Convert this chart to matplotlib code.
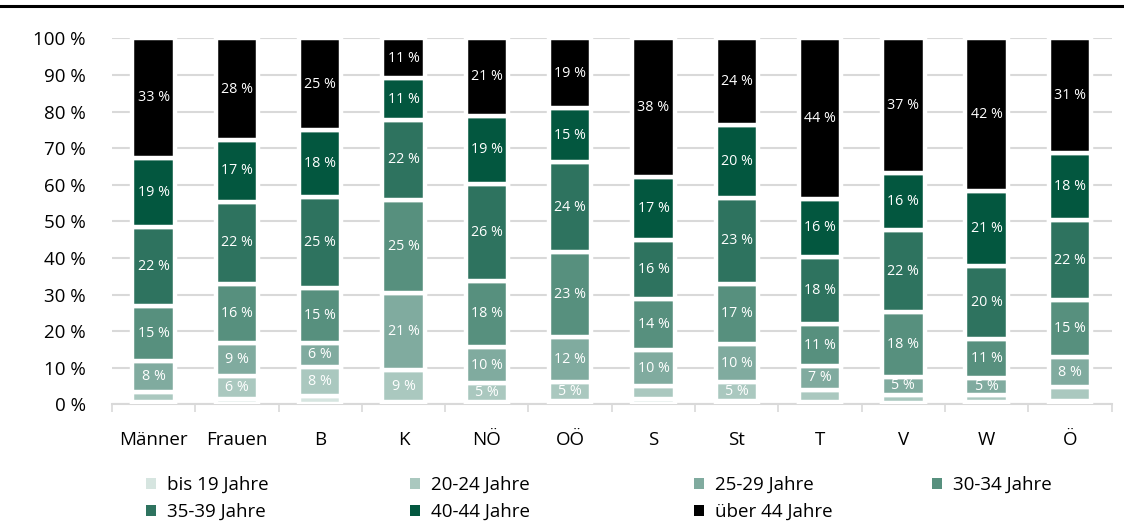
import matplotlib
matplotlib.use("Agg")
from matplotlib import pyplot as plt
from matplotlib.patches import Patch
from matplotlib.lines import Line2D
import numpy as np

plt.rcParams["font.family"] = ["Open Sans", "DejaVu Sans"]

regions = ["Männer", "Frauen", "B", "K", "NÖ", "OÖ", "S", "St", "T", "V", "W", "Ö"]
groups = ["bis 19 Jahre", "20-24 Jahre", "25-29 Jahre", "30-34 Jahre",
          "35-39 Jahre", "40-44 Jahre", "über 44 Jahre"]

# share per age group (percent), one list per group, order of regions
bis_19 = [0.5, 1.5, 2.3, 0.5, 0.7, 1.0, 1.4, 0.8, 0.6, 0.4, 0.5, 0.8]
a20_24 = [3.0, 6.2, 8.0, 8.9, 5.0, 5.0, 3.5, 5.2, 3.3, 2.2, 2.1, 3.8]
a25_29 = [8.3, 9.0, 6.4, 21.1, 10.0, 12.4, 9.9, 10.4, 6.6, 5.0, 4.6, 8.4]
a30_34 = [15.0, 16.3, 15.2, 25.4, 18.1, 23.3, 14.0, 16.6, 11.4, 17.6, 10.7, 15.4]
a35_39 = [21.7, 22.4, 24.7, 21.8, 26.4, 24.4, 16.0, 23.3, 18.3, 22.3, 19.8, 21.9]
a40_44 = [18.9, 16.8, 18.4, 11.4, 18.7, 14.8, 17.4, 20.0, 16.0, 15.6, 20.7, 18.3]
ueber_44 = [32.6, 27.8, 25.0, 10.9, 21.1, 19.1, 37.8, 23.7, 43.8, 36.9, 41.6, 31.4]

series = [bis_19, a20_24, a25_29, a30_34, a35_39, a40_44, ueber_44]
colors = ["#d6e5e0", "#aac8bf", "#80ab9f", "#57907e", "#2e735f", "#03573f", "#000000"]

fig = plt.figure(figsize=(11.24, 5.24), dpi=100)
ax = fig.add_axes([0.0996, 0.2284, 0.8894, 0.6985])

x = np.arange(len(regions))
bottom = np.zeros(len(regions))
for vals, col, name in zip(series, colors, groups):
    vals = np.array(vals)
    ax.bar(x, vals, 0.51, bottom=bottom, color=col, edgecolor="white",
           linewidth=3.2, label=name, zorder=3)
    for xi, b, v in zip(x, bottom, vals):
        if v >= 4:
            ax.text(xi, b + v / 2, f"{v:.0f} %", ha="center", va="center",
                    color="white", fontsize=10.3, zorder=4)
    bottom += vals

ax.set_xlim(-0.5, len(regions) - 0.5)
ax.set_ylim(0, 100)
ax.set_yticks(np.arange(0, 101, 10))
ax.set_yticklabels([f"{v} %" for v in range(0, 101, 10)], fontsize=13.5)
ax.yaxis.grid(True, color="#d9d9d9", linewidth=1.5, zorder=0)
ax.set_axisbelow(True)
ax.tick_params(axis="y", length=0, pad=19)

ax.set_xticks(x)
ax.set_xticklabels(regions, fontsize=13.5)
ax.set_xticks(np.arange(-0.5, len(regions), 1), minor=True)
ax.tick_params(axis="x", which="major", length=0, pad=19.5)
ax.tick_params(axis="x", which="minor", length=6, color="#d9d9d9", width=1.2)

for s in ["top", "right", "left"]:
    ax.spines[s].set_visible(False)
ax.spines["bottom"].set_color("#d9d9d9")
ax.spines["bottom"].set_linewidth(1.5)

# legend: one column per legend so the columns sit where the original has them
handles = [Patch(facecolor=c, edgecolor="none") for c in colors]
col_x = [146, 410, 694, 932]
for k, xpos in enumerate(col_x):
    idx = [i for i in (k, k + 4) if i < len(groups)]
    leg = fig.legend([handles[i] for i in idx], [groups[i] for i in idx],
                     loc="upper left", bbox_to_anchor=(xpos / 1124, 0.092),
                     frameon=False, fontsize=13.5, handlelength=0.55,
                     handleheight=0.55, handletextpad=0.55, labelspacing=0.5,
                     borderpad=0, borderaxespad=0)

# black rule at the top
fig.add_artist(Line2D([0, 1], [0.988, 0.988], color="black", linewidth=2.2,
                      transform=fig.transFigure))

fig.savefig("out.png", dpi=100)
